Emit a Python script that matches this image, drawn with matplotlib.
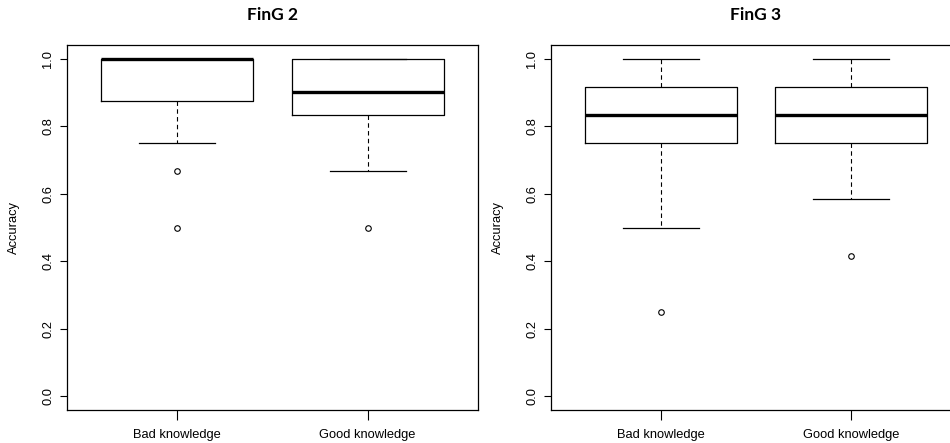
import matplotlib.pyplot as plt

groups = ['Bad knowledge', 'Good knowledge']
titles = ['FinG 2', 'FinG 3']

# per panel: [bad, good]
med = [[1.0, 0.9], [0.833, 0.833]]
q1 = [[0.875, 0.833], [0.75, 0.75]]
q3 = [[1.0, 1.0], [0.917, 0.917]]
wlo = [[0.75, 0.667], [0.5, 0.583]]
whi = [[1.0, 1.0], [1.0, 1.0]]
fliers = [[[0.667, 0.5], [0.5]], [[0.25], [0.417]]]

plt.rcParams['font.family'] = ['Liberation Sans', 'DejaVu Sans']

fig = plt.figure(figsize=(9.5, 4.43), dpi=100)
W, H = 950, 443
boxes = [(67, 478), (551, 961)]
top, bottom = 45, 410

for p in range(2):
    x0, x1 = boxes[p]
    ax = fig.add_axes([x0 / W, (H - bottom) / H, (x1 - x0) / W, (bottom - top) / H])
    stats = []
    for i in range(2):
        stats.append(dict(med=med[p][i], q1=q1[p][i], q3=q3[p][i],
                          whislo=wlo[p][i], whishi=whi[p][i], fliers=fliers[p][i]))
    ax.bxp(stats, positions=[1, 2], widths=0.8, showcaps=True,
           boxprops=dict(color='black', linewidth=0.9),
           medianprops=dict(color='black', linewidth=2.4, solid_capstyle='butt'),
           whiskerprops=dict(color='black', linewidth=0.8, linestyle=(0, (4, 3))),
           capprops=dict(color='black', linewidth=0.9),
           flierprops=dict(marker='o', markerfacecolor='none', markeredgecolor='black',
                           markersize=4, markeredgewidth=0.8))
    ax.set_xlim(0.42, 2.58)
    ax.set_ylim(-0.04, 1.04)
    ax.set_xticks([1, 2])
    ax.set_xticklabels(groups, fontsize=9.3)
    ax.set_yticks([0, 0.2, 0.4, 0.6, 0.8, 1.0])
    ax.set_yticklabels(['0.0', '0.2', '0.4', '0.6', '0.8', '1.0'], fontsize=9.3,
                       rotation=90, va='center')
    ax.tick_params(axis='x', length=7, width=0.8, pad=7)
    ax.tick_params(axis='y', length=5, width=0.8, pad=4)
    for s in ax.spines.values():
        s.set_linewidth(0.9)
    ax.set_ylabel('Accuracy', fontsize=9.3, labelpad=16)
    fig.text((x0 + x1) / 2 / W, 1 - 15 / H, titles[p], ha='center', va='center',
             fontsize=12.5, fontweight='bold', family=['Lato', 'DejaVu Sans'])

fig.savefig('out.png', dpi=100)
